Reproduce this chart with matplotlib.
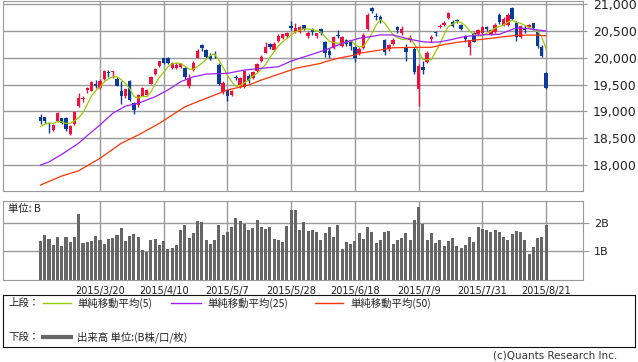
import numpy as np
import pandas as pd
import matplotlib
matplotlib.use('Agg')
import matplotlib.pyplot as plt

JP = ['Noto Sans CJK JP', 'DejaVu Sans']

# trading days (Tokyo), 2015/3/2 - 2015/8/21
holidays = ['2015-04-29', '2015-05-04', '2015-05-05', '2015-05-06', '2015-07-20']

opens = [18900, 18890, 18720, 18650, 18820, 18870, 18880, 18585, 18760, 19110,
         19230, 19400, 19390, 19520, 19440, 19600, 19735, 19735, 19610, 19380,
         19285, 19560, 19150, 19120, 19290, 19300, 19520, 19700, 19840, 19990,
         19990, 19820, 19817, 19830, 19817, 19480, 19774, 20000, 20250, 20147,
         20040, 20070, 19868, 19358, 19392, 19310, 19651, 19482, 19460, 19667,
         19628, 19755, 19935, 20100, 20260, 20150, 20315, 20380, 20400, 20600,
         20490, 20490, 20610, 20410, 20540, 20400, 20540, 20302, 20130, 20178,
         20420, 20222, 20330, 20300, 20209, 20100, 20180, 20533, 20930, 20790,
         20770, 20331, 20160, 20260, 20582, 20459, 20209, 20330, 20166, 19414,
         19836, 19929, 20347, 20480, 20582, 20620, 20739, 20676, 20700, 20614,
         20383, 20198, 20459, 20446, 20459, 20580, 20446, 20489, 20800, 20614,
         20614, 20925, 20645, 20396, 20540, 20570, 20645, 20489, 20198, 19724]
highs = [18950, 18900, 18800, 18770, 18990, 18880, 18900, 18740, 19010, 19350,
         19290, 19460, 19560, 19580, 19600, 19780, 19780, 19760, 19650, 19570,
         19420, 19580, 19180, 19330, 19460, 19420, 19660, 19820, 19950, 20006,
         20020, 19930, 19900, 19900, 19830, 19700, 19940, 20160, 20260, 20170,
         20100, 20130, 19900, 19560, 19400, 19400, 19680, 19640, 19780, 19700,
         19760, 19900, 20050, 20290, 20280, 20290, 20440, 20450, 20490, 20680,
         20655, 20590, 20620, 20500, 20560, 20470, 20560, 20320, 20180, 20400,
         20520, 20400, 20360, 20330, 20230, 20200, 20460, 20830, 20952, 20830,
         20800, 20360, 20260, 20370, 20600, 20590, 20260, 20430, 20200, 19880,
         19950, 20120, 20430, 20510, 20640, 20680, 20850, 20700, 20730, 20630,
         20430, 20340, 20480, 20540, 20600, 20600, 20540, 20650, 20840, 20760,
         20830, 20950, 20680, 20620, 20620, 20640, 20660, 20500, 20240, 19740]
lows = [18760, 18780, 18600, 18630, 18800, 18760, 18630, 18560, 18740, 19080,
        19170, 19340, 19380, 19440, 19420, 19580, 19640, 19620, 19470, 19140,
        19250, 19200, 18950, 19090, 19280, 19280, 19510, 19680, 19830, 19880,
        19880, 19800, 19800, 19810, 19610, 19440, 19760, 19990, 20130, 19990,
        19970, 19990, 19500, 19320, 19190, 19280, 19580, 19440, 19440, 19530,
        19610, 19740, 19920, 20090, 20170, 20140, 20300, 20360, 20380, 20520,
        20470, 20470, 20520, 20380, 20420, 20380, 20430, 20020, 19990, 20170,
        20370, 20200, 20230, 20150, 19930, 20060, 20170, 20520, 20840, 20700,
        20650, 20050, 20120, 20240, 20470, 20420, 19950, 20300, 19700, 19102,
        19700, 19900, 20300, 20400, 20560, 20600, 20720, 20580, 20650, 20520,
        20290, 20054, 20290, 20420, 20440, 20500, 20420, 20470, 20640, 20590,
        20600, 20700, 20320, 20380, 20460, 20550, 20530, 20180, 20010, 19420]
closes = [18826, 18815, 18703, 18751, 18971, 18790, 18665, 18723, 18991, 19254,
          19246, 19437, 19544, 19476, 19560, 19754, 19713, 19746, 19471, 19285,
          19411, 19206, 19034, 19312, 19435, 19397, 19640, 19789, 19937, 19907,
          19905, 19908, 19869, 19885, 19652, 19634, 19909, 20133, 20187, 20020,
          19983, 20058, 19520, 19531, 19291, 19379, 19620, 19624, 19764, 19570,
          19732, 19890, 20026, 20196, 20202, 20264, 20413, 20437, 20472, 20551,
          20563, 20569, 20543, 20473, 20488, 20460, 20457, 20096, 20046, 20383,
          20407, 20387, 20257, 20219, 19990, 20174, 20428, 20809, 20868, 20771,
          20706, 20109, 20235, 20329, 20522, 20539, 20112, 20376, 19737, 19855,
          19779, 20089, 20385, 20463, 20600, 20650, 20841, 20593, 20683, 20544,
          20350, 20328, 20302, 20522, 20585, 20548, 20520, 20614, 20664, 20724,
          20808, 20720, 20392, 20595, 20519, 20620, 20554, 20222, 20033, 19435]

# volume, billions of shares
volume = [1.37, 1.58, 1.45, 1.23, 1.51, 1.19, 1.51, 1.33, 1.51, 2.32,
          1.30, 1.33, 1.37, 1.54, 1.40, 1.26, 1.45, 1.49, 1.58, 1.82,
          1.37, 1.54, 1.61, 1.51, 1.05, 0.99, 1.40, 1.44, 1.23, 1.37,
          1.09, 1.12, 1.23, 1.75, 1.93, 1.47, 1.65, 2.07, 2.04, 1.40,
          1.26, 1.40, 1.93, 1.58, 1.68, 1.86, 2.18, 2.07, 1.96, 1.75,
          1.82, 2.11, 1.86, 1.79, 1.86, 1.44, 1.40, 1.33, 1.89,
          2.46, 2.46, 1.75, 2.04, 1.72, 1.75, 1.68, 1.40, 1.65, 1.86,
          1.51, 1.93, 1.09, 1.33, 1.26, 1.37, 1.65, 1.44, 1.86, 1.68,
          1.30, 1.40, 1.68, 1.72, 1.26, 1.40, 1.47, 1.65, 1.40, 2.11,
          2.56, 1.96, 1.40, 1.65, 1.30, 1.40, 1.19, 1.37, 1.47, 1.19,
          1.12, 1.23, 1.51, 1.33, 1.86, 1.79, 1.75, 1.68, 1.75, 1.68,
          1.51, 1.40, 1.61, 1.72, 1.68, 1.40, 0.91, 1.16, 1.47, 1.51, 1.93]

ma5 = [18719, 18762, 18785, 18778, 18813, 18806, 18776, 18780, 18828, 18885,
       18976, 19130, 19294, 19391, 19453, 19554, 19609, 19650, 19649, 19594,
       19525, 19424, 19281, 19250, 19280, 19277, 19364, 19515, 19640, 19734,
       19836, 19889, 19905, 19895, 19844, 19790, 19790, 19843, 19903, 19977,
       20046, 20076, 19954, 19822, 19677, 19556, 19468, 19489, 19536, 19591,
       19662, 19716, 19796, 19883, 20009, 20116, 20220, 20302, 20358, 20427,
       20487, 20518, 20540, 20540, 20527, 20507, 20484, 20395, 20309, 20288,
       20278, 20264, 20296, 20331, 20252, 20205, 20214, 20324, 20454, 20610,
       20716, 20653, 20538, 20430, 20380, 20347, 20347, 20376, 20257, 20124,
       19972, 19967, 19969, 20114, 20263, 20437, 20588, 20629, 20673, 20662,
       20602, 20500, 20441, 20409, 20417, 20457, 20495, 20558, 20586, 20614,
       20666, 20706, 20662, 20648, 20607, 20569, 20536, 20502, 20390, 20173]

# 25 / 50 day averages (trading-day number, value)
ma25_day = [0, 2, 5, 9, 11, 14, 17, 20, 23, 27, 30, 33, 36, 37, 39, 44, 48, 52,
            56, 59, 61, 67, 71, 75, 78, 80, 83, 87, 90, 92, 94, 96, 98, 100,
            104, 108, 110, 112, 114, 116, 119]
ma25_val = [18000, 18060, 18200, 18410, 18550, 18748, 18966, 19100, 19153, 19276,
            19401, 19556, 19649, 19662, 19699, 19712, 19774, 19806, 19836, 19940,
            19992, 20147, 20272, 20366, 20400, 20430, 20427, 20347, 20302, 20290,
            20300, 20330, 20365, 20400, 20430, 20440, 20500, 20560, 20552, 20533,
            20502]
ma50_day = [0, 5, 9, 14, 19, 23, 28, 34, 37, 39, 42, 44, 49, 52, 59, 60, 66, 67,
            70, 74, 75, 80, 83, 84, 89, 92, 95, 98, 102, 106, 109, 112, 116, 119]
ma50_val = [17628, 17796, 17895, 18126, 18406, 18561, 18779, 19089, 19183, 19246,
            19339, 19401, 19494, 19588, 19774, 19806, 19899, 19929, 19992, 20054,
            20086, 20147, 20190, 20190, 20198, 20198, 20250, 20290, 20330, 20365,
            20395, 20420, 20427, 20414]

days = pd.bdate_range('2015-03-02', '2015-08-21')
days = days[~days.isin(pd.to_datetime(holidays))]
x = np.arange(len(days))
o = np.array(opens); c = np.array(closes)
up = c >= o
RED, BLUE = '#f0103c', '#0a3a9a'
cols = np.where(up, RED, BLUE)

first = days.get_loc(pd.Timestamp('2015-03-20'))
ticks = x[first::15]
tlabels = [f'{d.year}/{d.month}/{d.day}' for d in days[first::15]]

GRID = '#9a9a9a'
fig = plt.figure(figsize=(6.38, 3.62), dpi=100)
W, H = 638, 362
ax = fig.add_axes([3 / W, 1 - 190.7 / H, 580 / W, 189.7 / H])
axv = fig.add_axes([3 / W, 1 - 280 / H, 580 / W, 79 / H])

# price panel
ax.vlines(x, lows, highs, colors=cols, lw=1.0, zorder=3)
body = np.maximum(np.abs(c - o), 15)
ax.bar(x, body, bottom=np.minimum(o, c), width=0.8, color=cols, lw=0, zorder=3)
ax.plot(x, ma5, color='#99cc00', lw=0.9, zorder=4)
ax.plot(ma25_day, ma25_val, color='#9d1eff', lw=0.9, zorder=4)
ax.plot(ma50_day, ma50_val, color='#ff3300', lw=0.9, zorder=4)
ax.set_xlim(-8.83, 127.7)
ax.set_ylim(17522, 21062)
ax.set_yticks(range(18000, 21001, 500))
ax.set_yticklabels([f'{v:,}' for v in range(18000, 21001, 500)])
ax.set_xticks(ticks)
ax.set_xticklabels([])
ax.yaxis.tick_right()
ax.tick_params(axis='y', length=3, color=GRID, pad=4, labelsize=9, labelcolor='#222222')
ax.tick_params(axis='x', length=0)
ax.grid(True, color=GRID, lw=1.0)
ax.set_axisbelow(True)
for s in ax.spines.values():
    s.set_color(GRID)

# volume panel
axv.bar(x, volume, width=0.72, color='#666666', lw=0, zorder=3)
axv.set_xlim(-8.83, 127.7)
axv.set_ylim(0, 2.77)
axv.set_yticks([1, 2])
axv.set_yticklabels(['1B', '2B'])
axv.yaxis.tick_right()
axv.tick_params(axis='y', length=4, color=GRID, pad=4, labelsize=8, labelcolor='#222222')
axv.set_xticks(ticks)
axv.set_xticklabels(tlabels)
axv.tick_params(axis='x', length=0, pad=4, labelsize=7, labelcolor='#222222')
axv.grid(True, color=GRID, lw=1.0)
axv.set_axisbelow(True)
for s in axv.spines.values():
    s.set_color(GRID)
axv.text(0.009, 0.96, '単位: B', transform=axv.transAxes, ha='left', va='top',
         fontsize=7.5, family=JP, color='#222222')

# legend box
lg = fig.add_axes([3 / W, 1 - 347 / H, 632 / W, 52 / H])
lg.set_xlim(0, 632)
lg.set_ylim(52, 0)
lg.set_xticks([]); lg.set_yticks([])
for s in lg.spines.values():
    s.set_color('#111111')
kw = dict(fontsize=7.5, family=JP, va='center', ha='left', color='#222222')
lg.text(5, 8, '上段：', **kw)
lg.plot([40, 68], [8, 8], color='#99cc00', lw=1)
lg.text(74, 8, '単純移動平均(5)', **kw)
lg.plot([168, 198], [8, 8], color='#9d1eff', lw=1)
lg.text(204, 8, '単純移動平均(25)', **kw)
lg.plot([312, 340], [8, 8], color='#ff3300', lw=1)
lg.text(347, 8, '単純移動平均(50)', **kw)
lg.text(5, 42, '下段：', **kw)
lg.plot([40, 68], [42, 42], color='#666666', lw=3)
lg.text(74, 42, '出来高 単位:(B株/口/枚)', **kw)

fig.text(617 / W, 1 - 356 / H, '(c)Quants Research Inc.', ha='right', va='center',
         fontsize=7.5, color='#333333')

fig.savefig('out.png', dpi=100)
